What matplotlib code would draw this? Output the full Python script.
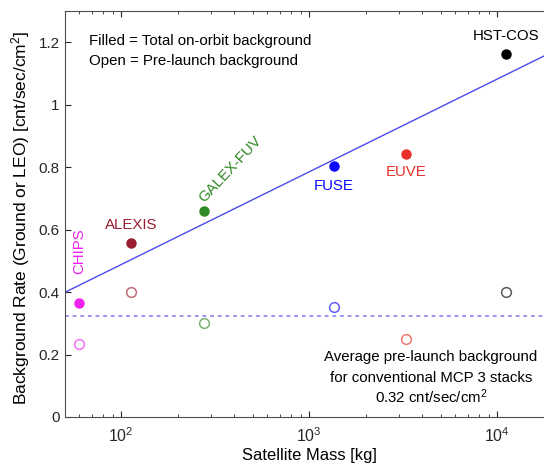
import numpy as np
import matplotlib.pyplot as plt

plt.rcParams['font.family'] = ['Liberation Sans', 'DejaVu Sans']
plt.rcParams['mathtext.fontset'] = 'custom'
plt.rcParams['mathtext.rm'] = 'Liberation Sans'
plt.rcParams['mathtext.it'] = 'Liberation Sans:italic'

# Satelliten / Missionen
missions = ['CHIPS', 'ALEXIS', 'GALEX-FUV', 'FUSE', 'EUVE', 'HST-COS']
mass_kg = [60, 113, 277, 1356, 3270, 11100]
onorbit_bg = [0.365, 0.557, 0.66, 0.803, 0.842, 1.161]   # filled
prelaunch_bg = [0.235, 0.399, 0.302, 0.352, 0.251, 0.399]  # open
colors = ['#ee22ee', '#9b1b30', '#2e8a22', '#0a0aff', '#e8302a', '#000000']

# Fit-Linie: y = a + b*log10(m)
fit_a = -0.106
fit_b = 0.297
avg_prelaunch = 0.322

fig = plt.figure(figsize=(5.44, 4.70), dpi=100, facecolor='white')
ax = fig.add_axes([64.5/544, 53/470, 489.3/544, 406/470])
ax.set_xscale('log')
ax.set_xlim(50, 2e4)
ax.set_ylim(0, 1.3)

xx = np.logspace(np.log10(50), np.log10(2e4), 50)
ax.plot(xx, fit_a + fit_b*np.log10(xx), color='#4a4aee', lw=1.0)
ax.axhline(avg_prelaunch, color='#7a7aee', lw=1.1, ls=(0, (2.5, 2.5)))

for m, yf, yo, c in zip(mass_kg, onorbit_bg, prelaunch_bg, colors):
    ax.plot(m, yf, 'o', color=c, ms=6.5, zorder=3)
    ax.plot(m, yo, 'o', mfc='none', mec=c, mew=1.1, ms=7, alpha=0.65, zorder=3)

# Beschriftungen der Missionen
fs = 10.8
offsets = {
    'CHIPS': (0, 37.5), 'ALEXIS': (0, 13.2), 'GALEX-FUV': (0, 5.5),
    'FUSE': (0, -14.5), 'EUVE': (0, -13.2), 'HST-COS': (0, 13.2),
}
for name, m, yf, c in zip(missions, mass_kg, onorbit_bg, colors):
    dx, dy = offsets[name]
    if name == 'CHIPS':
        ax.annotate(name, (m, yf), xytext=(dx, dy), textcoords='offset points',
                    ha='center', va='center', rotation=90, color=c, fontsize=fs)
    elif name == 'GALEX-FUV':
        ax.annotate(name, (m, yf), xytext=(dx, dy), textcoords='offset points',
                    ha='left', va='baseline', rotation=47, rotation_mode='anchor',
                    color=c, fontsize=fs)
    else:
        ax.annotate(name, (m, yf), xytext=(dx, dy), textcoords='offset points',
                    ha='center', va='center', color=c, fontsize=fs)

ax.text(0.051, 0.917, 'Filled = Total on-orbit background', transform=ax.transAxes,
        ha='left', va='baseline', fontsize=fs)
ax.text(0.051, 0.868, 'Open = Pre-launch background', transform=ax.transAxes,
        ha='left', va='baseline', fontsize=fs)

ax.text(0.749, 0.138, 'Average pre-launch background', transform=ax.transAxes,
        ha='center', va='baseline', fontsize=fs)
ax.text(0.749, 0.086, 'for conventional MCP 3 stacks', transform=ax.transAxes,
        ha='center', va='baseline', fontsize=fs)
ax.text(0.749, 0.034, r'0.32 cnt/sec/cm$^2$', transform=ax.transAxes,
        ha='center', va='baseline', fontsize=fs)

ax.set_yticks([0, 0.2, 0.4, 0.6, 0.8, 1.0, 1.2])
ax.set_yticklabels(['0', '0.2', '0.4', '0.6', '0.8', '1', '1.2'])
ax.tick_params(which='both', direction='in', top=True, right=False,
               colors='#262626')
ax.tick_params(axis='y', labelsize=11)
ax.tick_params(axis='x', labelsize=11.4, pad=7)
ax.tick_params(which='major', length=4.5)
ax.tick_params(which='minor', length=2.5)
for s in ['left', 'bottom', 'top']:
    ax.spines[s].set_color('#4d4d4d')
    ax.spines[s].set_linewidth(0.8)

ax.set_xlabel('Satellite Mass [kg]', fontsize=11.9, labelpad=2)
ax.set_ylabel(r'Background Rate (Ground or LEO) [cnt/sec/cm$^2$]', fontsize=12.5)
ax.yaxis.set_label_coords(-0.066, 0.49)

fig.savefig('out.png', dpi=100)
